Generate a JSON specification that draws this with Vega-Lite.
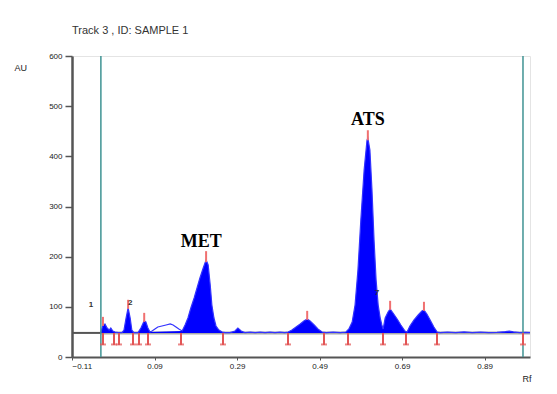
{
  "$schema": "https://vega.github.io/schema/vega-lite/v6.json",
  "width": 458,
  "height": 301,
  "autosize": {"type": "none"},
  "padding": {"left": 72, "top": 56, "right": 27, "bottom": 37},
  "background": "white",
  "title": {"text": "Track  3 , ID: SAMPLE 1", "anchor": "start", "frame": "group", "offset": 16, "fontSize": 11, "font": "Liberation Sans", "fontWeight": "normal", "color": "#333333"},
  "config": {"view": {"stroke": "#e4e4e4", "strokeWidth": 1}, "axis": {"grid": false, "labelFont": "Liberation Sans", "titleFont": "Liberation Sans", "labelColor": "#222222", "titleColor": "#222222", "labelFontSize": 8, "titleFontSize": 9, "titleFontWeight": "normal", "domainColor": "#555555", "tickColor": "#555555"}},
  "datasets": {
    "trace": [
      {"rf": -0.040, "au": 49}, {"rf": -0.035, "au": 63.8}, {"rf": -0.030, "au": 65.8}, {"rf": -0.025, "au": 57.8}, {"rf": -0.020, "au": 53.8}, {"rf": -0.016, "au": 57.8}, {"rf": -0.011, "au": 51.8}, {"rf": -0.006, "au": 49.8}, {"rf": 0.002, "au": 48.5}, {"rf": 0.011, "au": 48.5}, {"rf": 0.016, "au": 53.8}, {"rf": 0.021, "au": 77.7}, {"rf": 0.026, "au": 97.7}, {"rf": 0.031, "au": 77.7}, {"rf": 0.035, "au": 53.8}, {"rf": 0.040, "au": 48.5}, {"rf": 0.050, "au": 48.5}, {"rf": 0.057, "au": 57.8}, {"rf": 0.065, "au": 71.8}, {"rf": 0.069, "au": 69.8}, {"rf": 0.074, "au": 57.8}, {"rf": 0.079, "au": 49.8}, {"rf": 0.084, "au": 51.8}, {"rf": 0.091, "au": 55.8}, {"rf": 0.098, "au": 59.8}, {"rf": 0.108, "au": 61.8}, {"rf": 0.118, "au": 63.8}, {"rf": 0.128, "au": 65.8}, {"rf": 0.135, "au": 63.8}, {"rf": 0.142, "au": 59.8}, {"rf": 0.149, "au": 55.8}, {"rf": 0.157, "au": 51.8}, {"rf": 0.164, "au": 63.8}, {"rf": 0.171, "au": 77.7}, {"rf": 0.178, "au": 97.7}, {"rf": 0.186, "au": 117.6}, {"rf": 0.193, "au": 137.5}, {"rf": 0.200, "au": 157.5}, {"rf": 0.208, "au": 177.4}, {"rf": 0.215, "au": 193.3}, {"rf": 0.220, "au": 183.4}, {"rf": 0.225, "au": 143.5}, {"rf": 0.229, "au": 103.6}, {"rf": 0.234, "au": 77.7}, {"rf": 0.239, "au": 61.8}, {"rf": 0.246, "au": 53.8}, {"rf": 0.254, "au": 49.8}, {"rf": 0.261, "au": 48.5}, {"rf": 0.273, "au": 48.5}, {"rf": 0.285, "au": 51.8}, {"rf": 0.292, "au": 57.8}, {"rf": 0.300, "au": 51.8}, {"rf": 0.309, "au": 48.5}, {"rf": 0.322, "au": 49.5}, {"rf": 0.334, "au": 48.5}, {"rf": 0.346, "au": 49.5}, {"rf": 0.358, "au": 48.5}, {"rf": 0.370, "au": 49.5}, {"rf": 0.382, "au": 48.5}, {"rf": 0.394, "au": 49.5}, {"rf": 0.406, "au": 48.5}, {"rf": 0.414, "au": 49.8}, {"rf": 0.423, "au": 53.8}, {"rf": 0.433, "au": 59.8}, {"rf": 0.443, "au": 65.8}, {"rf": 0.452, "au": 71.8}, {"rf": 0.460, "au": 75.7}, {"rf": 0.467, "au": 71.8}, {"rf": 0.477, "au": 63.8}, {"rf": 0.486, "au": 55.8}, {"rf": 0.496, "au": 49.8}, {"rf": 0.506, "au": 48.5}, {"rf": 0.523, "au": 49.5}, {"rf": 0.540, "au": 48.5}, {"rf": 0.554, "au": 49.8}, {"rf": 0.561, "au": 55.8}, {"rf": 0.569, "au": 69.8}, {"rf": 0.576, "au": 103.6}, {"rf": 0.583, "au": 173.4}, {"rf": 0.590, "au": 273.1}, {"rf": 0.598, "au": 372.7}, {"rf": 0.605, "au": 432.5}, {"rf": 0.607, "au": 436.5}, {"rf": 0.612, "au": 412.6}, {"rf": 0.617, "au": 332.9}, {"rf": 0.622, "au": 233.2}, {"rf": 0.627, "au": 153.5}, {"rf": 0.632, "au": 103.6}, {"rf": 0.637, "au": 77.7}, {"rf": 0.641, "au": 63.8}, {"rf": 0.644, "au": 55.8}, {"rf": 0.649, "au": 77.7}, {"rf": 0.656, "au": 89.7}, {"rf": 0.661, "au": 95.7}, {"rf": 0.668, "au": 87.7}, {"rf": 0.678, "au": 75.7}, {"rf": 0.687, "au": 63.8}, {"rf": 0.697, "au": 51.8}, {"rf": 0.702, "au": 49.8}, {"rf": 0.709, "au": 61.8}, {"rf": 0.719, "au": 73.8}, {"rf": 0.729, "au": 83.7}, {"rf": 0.738, "au": 91.7}, {"rf": 0.743, "au": 93.7}, {"rf": 0.750, "au": 85.7}, {"rf": 0.758, "au": 73.8}, {"rf": 0.767, "au": 59.8}, {"rf": 0.775, "au": 49.8}, {"rf": 0.782, "au": 48.5}, {"rf": 0.800, "au": 49.5}, {"rf": 0.820, "au": 48.5}, {"rf": 0.840, "au": 50}, {"rf": 0.860, "au": 48.5}, {"rf": 0.880, "au": 49.5}, {"rf": 0.900, "au": 48.5}, {"rf": 0.920, "au": 49}, {"rf": 0.940, "au": 50.5}, {"rf": 0.950, "au": 51.5}, {"rf": 0.960, "au": 50}, {"rf": 0.975, "au": 48.5}, {"rf": 0.990, "au": 49}, {"rf": 1.000, "au": 48.5}
    ],
    "bounds": [
      {"rf": -0.0349, "au": 48}, {"rf": -0.0082, "au": 48}, {"rf": 0.0039, "au": 48}, {"rf": 0.0378, "au": 48}, {"rf": 0.0524, "au": 48}, {"rf": 0.0742, "au": 48}, {"rf": 0.1542, "au": 48}, {"rf": 0.256, "au": 48}, {"rf": 0.4135, "au": 48}, {"rf": 0.5008, "au": 48}, {"rf": 0.5589, "au": 48}, {"rf": 0.6438, "au": 48}, {"rf": 0.6995, "au": 48}, {"rf": 0.7746, "au": 48}, {"rf": 0.9831, "au": 48}
    ],
    "tops": [
      {"rf": -0.035, "au": 62, "au2": 80}, {"rf": 0.026, "au": 96, "au2": 114}, {"rf": 0.065, "au": 70, "au2": 88}, {"rf": 0.215, "au": 189, "au2": 211}, {"rf": 0.460, "au": 74, "au2": 92}, {"rf": 0.607, "au": 432, "au2": 452}, {"rf": 0.661, "au": 94, "au2": 112}, {"rf": 0.743, "au": 92, "au2": 110}
    ]
  },
  "encoding": {
    "x": {"field": "rf", "type": "quantitative", "scale": {"domain": [-0.11, 1.0], "nice": false, "zero": false}, "axis": {"values": [-0.11, 0.09, 0.29, 0.49, 0.69, 0.89], "format": ".2f", "tickSize": 3, "domainWidth": 2, "labelPadding": 2, "title": "Rf", "titleX": 450, "titleY": 21, "titleAlign": "left", "titleBaseline": "middle"}},
    "y": {"field": "au", "type": "quantitative", "scale": {"domain": [0, 600], "nice": false}, "axis": {"values": [0, 100, 200, 300, 400, 500, 600], "tickSize": 7, "tickWidth": 1.5, "domainWidth": 2.5, "labelPadding": 3, "title": "AU", "titleAngle": 0, "titleX": -58, "titleY": 11, "titleAlign": "left", "titleBaseline": "middle"}}
  },
  "layer": [
    {"data": {"values": [{"rf": -0.11, "rf2": -0.04, "au": 48}]}, "mark": {"type": "rule", "color": "#555555", "strokeWidth": 2}, "encoding": {"x2": {"field": "rf2"}}},
    {"data": {"values": [{"rf": -0.04, "rf2": 1.0, "au": 48}]}, "mark": {"type": "rule", "color": "#aaaaaa", "strokeWidth": 3}, "encoding": {"x2": {"field": "rf2"}}},
    {"data": {"name": "trace"}, "transform": [{"filter": "datum.rf <= 0.079 || datum.rf >= 0.157"}], "mark": {"type": "area", "color": "#0000ff", "opacity": 1}, "encoding": {"y2": {"datum": 48}}},
    {"data": {"name": "trace"}, "mark": {"type": "line", "color": "#3333ff", "strokeWidth": 1.2}, "encoding": {}},
    {"data": {"values": [{"rf": -0.04, "au": 0, "au2": 600}, {"rf": 0.983, "au": 0, "au2": 600}]}, "mark": {"type": "rule", "color": "#3f9393", "strokeWidth": 1.5}, "encoding": {"y2": {"field": "au2"}}},
    {"data": {"name": "bounds"}, "mark": {"type": "rule", "color": "#e25555", "strokeWidth": 2}, "encoding": {"y2": {"datum": 24}}},
    {"data": {"name": "bounds"}, "mark": {"type": "tick", "color": "#e25555", "orient": "horizontal", "size": 6, "thickness": 2}, "encoding": {"y": {"datum": 25}}},
    {"data": {"name": "tops"}, "mark": {"type": "rule", "color": "#f07070", "strokeWidth": 2}, "encoding": {"y2": {"field": "au2"}}},
    {"data": {"values": [{"rf": 0.203, "au": 229, "label": "MET"}, {"rf": 0.607, "au": 472, "label": "ATS"}]}, "mark": {"type": "text", "font": "Liberation Serif", "fontWeight": "bold", "fontSize": 18, "color": "#000000", "baseline": "middle", "align": "center"}, "encoding": {"text": {"field": "label"}}},
    {"data": {"values": [{"rf": -0.064, "au": 104, "label": "1"}, {"rf": 0.031, "au": 107, "label": "2"}, {"rf": 0.629, "au": 128, "label": "7"}]}, "mark": {"type": "text", "font": "Liberation Sans", "fontWeight": "bold", "fontSize": 8, "color": "#333333", "baseline": "middle", "align": "center"}, "encoding": {"text": {"field": "label"}}}
  ]
}
